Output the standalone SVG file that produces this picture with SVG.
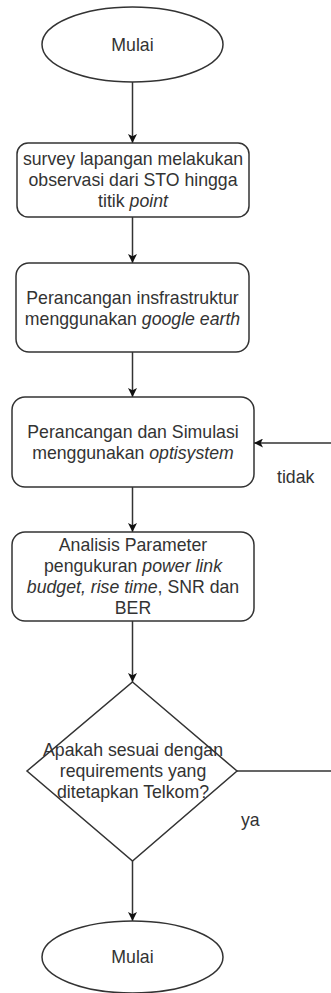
<svg xmlns="http://www.w3.org/2000/svg" width="331" height="993" viewBox="0 0 331 993">
  <style>
    .shape { fill: #ffffff; stroke: #333333; stroke-width: 1.5; }
    .edge { fill: none; stroke: #333333; stroke-width: 1.5; }
    text { font-family: "Liberation Sans", Arial, sans-serif; font-size: 17.7px; fill: #333333; text-anchor: middle; }
    .lbl { text-anchor: start; }
    .it { font-style: italic; }
  </style>
  <defs>
    <marker id="arrow" viewBox="0 0 10 10" refX="10" refY="5" markerWidth="9" markerHeight="9" markerUnits="userSpaceOnUse" orient="auto">
      <path d="M0,0 L10,5 L0,10 L2.5,5 Z" fill="#111111"/>
    </marker>
  </defs>

  <!-- connectors -->
  <g id="connectors">
    <line class="edge" x1="132.5" y1="82" x2="132.5" y2="143" marker-end="url(#arrow)"/>
    <line class="edge" x1="132.5" y1="217" x2="132.5" y2="263" marker-end="url(#arrow)"/>
    <line class="edge" x1="132.5" y1="352" x2="132.5" y2="397" marker-end="url(#arrow)"/>
    <line class="edge" x1="132.5" y1="487" x2="132.5" y2="532" marker-end="url(#arrow)"/>
    <line class="edge" x1="132.5" y1="621" x2="132.5" y2="682" marker-end="url(#arrow)"/>
    <line class="edge" x1="132.5" y1="861" x2="132.5" y2="921" marker-end="url(#arrow)"/>
    <!-- "tidak" loop back to the simulation step -->
    <path class="edge" d="M237,771 H345 V443 H254" marker-end="url(#arrow)"/>
    <text class="lbl" x="277" y="483">tidak</text>
    <text class="lbl" x="241" y="826">ya</text>
  </g>

  <g id="start">
    <ellipse class="shape" cx="132.5" cy="44.5" rx="90.5" ry="37.5"/>
    <text x="132.5" y="51">Mulai</text>
  </g>

  <g id="survey">
    <rect class="shape" x="17" y="143" width="232" height="74" rx="11" ry="11"/>
    <text x="133" y="165">survey lapangan melakukan</text>
    <text x="133" y="186">observasi dari STO hingga</text>
    <text x="133" y="207">titik <tspan class="it">point</tspan></text>
  </g>

  <g id="infrastructure">
    <rect class="shape" x="16" y="263" width="233" height="89" rx="13" ry="13"/>
    <text x="132.5" y="303.5">Perancangan insfrastruktur</text>
    <text x="132.5" y="324.5">menggunakan <tspan class="it">google earth</tspan></text>
  </g>

  <g id="simulation">
    <rect class="shape" x="12" y="397" width="242" height="90" rx="13" ry="13"/>
    <text x="133" y="438">Perancangan dan Simulasi</text>
    <text x="133" y="459">menggunakan <tspan class="it">optisystem</tspan></text>
  </g>

  <g id="analysis">
    <rect class="shape" x="12" y="532" width="242" height="89" rx="13" ry="13"/>
    <text x="133" y="551">Analisis Parameter</text>
    <text x="133" y="572">pengukuran <tspan class="it">power link</tspan></text>
    <text x="133" y="593"><tspan class="it">budget, rise time</tspan>, SNR dan</text>
    <text x="133" y="614">BER</text>
  </g>

  <g id="decision">
    <polygon class="shape" points="132.5,682 237,771 132.5,861 27,771"/>
    <text x="133" y="756">Apakah sesuai dengan</text>
    <text x="133" y="777">requirements yang</text>
    <text x="133" y="798">ditetapkan Telkom?</text>
  </g>

  <g id="end">
    <ellipse class="shape" cx="132.5" cy="957" rx="90.5" ry="36"/>
    <text x="132.5" y="963">Mulai</text>
  </g>
</svg>
